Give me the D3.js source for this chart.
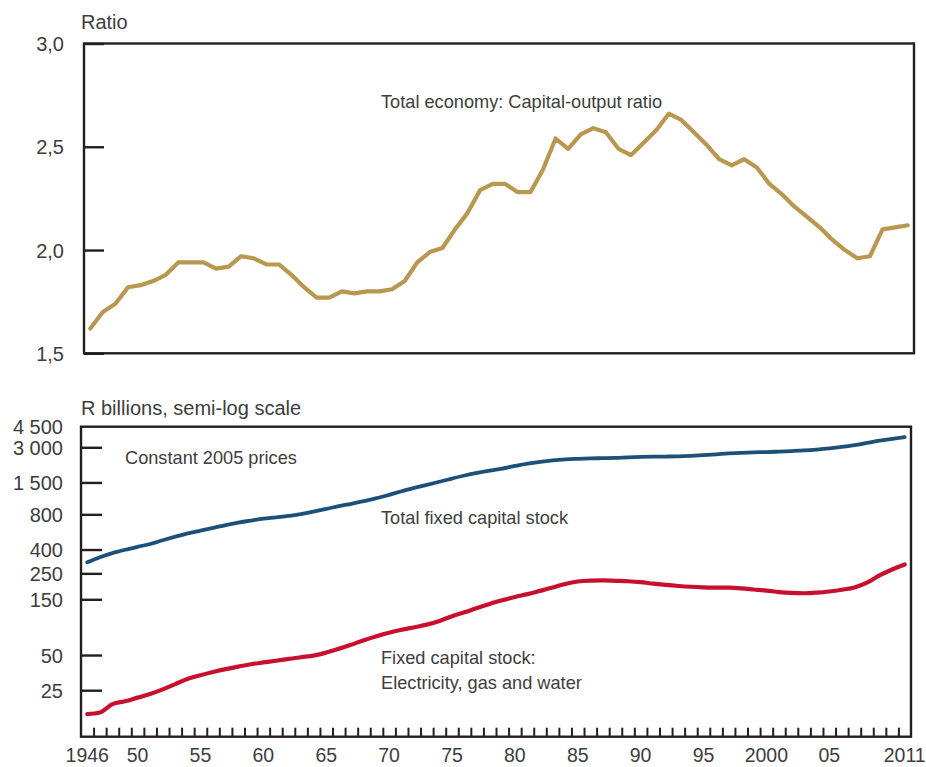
<!DOCTYPE html>
<html><head><meta charset="utf-8">
<script src="https://cdn.jsdelivr.net/npm/d3@7"></script>
<style>
html,body{margin:0;padding:0;background:#fff;}
svg{display:block;font-family:"Liberation Sans",Arial,Helvetica,sans-serif;}
</style></head><body>
<svg id="chart" width="926" height="767"></svg>
<script>
// Years covered by both panels
const years = d3.range(1946, 2012);

// Total economy: capital-output ratio
const capitalOutputRatio = [
  1.62, 1.70, 1.74, 1.82, 1.83, 1.85, 1.88, 1.94, 1.94, 1.94,
  1.91, 1.92, 1.97, 1.96, 1.93, 1.93, 1.88, 1.82, 1.77, 1.77,
  1.80, 1.79, 1.80, 1.80, 1.81, 1.85, 1.94, 1.99, 2.01, 2.10,
  2.18, 2.29, 2.32, 2.32, 2.28, 2.28, 2.39, 2.54, 2.49, 2.56,
  2.59, 2.57, 2.49, 2.46, 2.52, 2.58, 2.66, 2.63, 2.57, 2.51,
  2.44, 2.41, 2.44, 2.40, 2.32, 2.27, 2.21, 2.16, 2.11, 2.05,
  2.00, 1.96, 1.97, 2.10, 2.11, 2.12
];

// Total fixed capital stock, R billions at constant 2005 prices
const totalCapitalStock = [
  311, 344, 373, 398, 422, 446, 480, 515, 550, 580,
  612, 648, 680, 707, 735, 753, 775, 803, 845, 890,
  940, 985, 1040, 1100, 1175, 1260, 1350, 1430, 1520, 1620,
  1720, 1810, 1890, 1970, 2075, 2175, 2255, 2320, 2365, 2390,
  2410, 2420, 2433, 2460, 2480, 2495, 2500, 2510, 2535, 2570,
  2610, 2655, 2690, 2715, 2728, 2755, 2785, 2820, 2870, 2935,
  3020, 3130, 3270, 3420, 3540, 3660
];

// Fixed capital stock: electricity, gas and water, R billions
const electricityGasWaterStock = [
  15.6, 16.1, 19.0, 20.1, 21.6, 23.2, 25.4, 28.2, 31.3, 33.6,
  35.8, 37.9, 39.8, 41.7, 43.2, 44.7, 46.3, 47.9, 49.4, 52.5,
  56.5, 61.4, 67.0, 72.5, 77.7, 82.3, 86.5, 91, 98, 107.5,
  116, 126.5, 137, 147, 157, 166, 177, 189, 203, 213,
  217, 218, 216, 214, 210, 204, 199, 195, 192, 190,
  189, 188.5, 186, 182, 178, 173, 170, 169, 171, 175,
  181, 189, 208, 240, 270, 298
];

const ratioTicks = [1.5, 2.0, 2.5, 3.0];
const stockTicks = [25, 50, 150, 250, 400, 800, 1500, 3000, 4500];
const yearLabelYears = [1946, 1950, 1955, 1960, 1965, 1970, 1975, 1980, 1985, 1990, 1995, 2000, 2005, 2011];
const yearLabelText = ["1946", "50", "55", "60", "65", "70", "75", "80", "85", "90", "95", "2000", "05", "2011"];

const colors = { ratio: "#b9974f", total: "#1d5079", elec: "#c8102e", axis: "#231f20", text: "#3d3d3d" };

const locale = d3.formatLocale({ decimal: ",", thousands: " ", grouping: [3], currency: ["R", ""] });
const fmtRatio = locale.format(".1f");
const fmtStock = locale.format(",");

const svg = d3.select("#chart");

// ---------- Top panel: capital-output ratio ----------
const topBox = { left: 84, right: 914, top: 43.5, bottom: 353.3 };
const xTop = d3.scaleLinear().domain([1945.5, 2011.5]).range([topBox.left, topBox.right]);
const yTop = d3.scaleLinear().domain([1.5, 3.0]).range([topBox.bottom, topBox.top]);

const gTop = svg.append("g");

gTop.append("path")
  .datum(years.map((yr, i) => [yr, capitalOutputRatio[i]]))
  .attr("fill", "none")
  .attr("stroke", colors.ratio)
  .attr("stroke-width", 4.2)
  .attr("stroke-linejoin", "round")
  .attr("stroke-linecap", "round")
  .attr("d", d3.line().x(d => xTop(d[0])).y(d => yTop(d[1])));

gTop.append("rect")
  .attr("x", topBox.left).attr("y", topBox.top)
  .attr("width", topBox.right - topBox.left).attr("height", topBox.bottom - topBox.top)
  .attr("fill", "none").attr("stroke", colors.axis).attr("stroke-width", 2.4);

const yAxisTop = d3.axisLeft(yTop).tickValues(ratioTicks).tickFormat(fmtRatio).tickSize(-20).tickPadding(20);
const yAxisTopG = gTop.append("g").attr("transform", `translate(${topBox.left},0)`).call(yAxisTop);
yAxisTopG.select(".domain").remove();
yAxisTopG.selectAll(".tick line").attr("stroke", colors.axis).attr("stroke-width", 2.4);
yAxisTopG.selectAll(".tick text").attr("fill", colors.text).style("font-size", "20px").attr("dy", "0.36em");

gTop.append("text").attr("x", 81).attr("y", 29).attr("fill", colors.text)
  .style("font-size", "20px").text("Ratio");

gTop.append("text").attr("x", 381).attr("y", 108).attr("fill", colors.text)
  .style("font-size", "18.2px").text("Total economy: Capital-output ratio");

// ---------- Bottom panel: fixed capital stock, semi-log ----------
const botBox = { left: 81, right: 911, top: 426.7, bottom: 736.7 };
const xBot = d3.scaleLinear().domain([1945.5, 2011.5]).range([botBox.left, botBox.right]);
const yBot = d3.scaleLog().domain([10, 4500]).range([botBox.bottom, botBox.top]);

const gBot = svg.append("g");

const smoothLine = d3.line().curve(d3.curveMonotoneX).x(d => xBot(d[0])).y(d => yBot(d[1]));

gBot.append("path")
  .datum(years.map((yr, i) => [yr, totalCapitalStock[i]]))
  .attr("fill", "none").attr("stroke", colors.total).attr("stroke-width", 3.8)
  .attr("stroke-linecap", "round").attr("d", smoothLine);

gBot.append("path")
  .datum(years.map((yr, i) => [yr, electricityGasWaterStock[i]]))
  .attr("fill", "none").attr("stroke", colors.elec).attr("stroke-width", 4.2)
  .attr("stroke-linecap", "round").attr("d", smoothLine);

gBot.append("rect")
  .attr("x", botBox.left).attr("y", botBox.top)
  .attr("width", botBox.right - botBox.left).attr("height", botBox.bottom - botBox.top)
  .attr("fill", "none").attr("stroke", colors.axis).attr("stroke-width", 2.4);

const yAxisBot = d3.axisLeft(yBot).tickValues(stockTicks).tickFormat(fmtStock).tickSize(-21).tickPadding(18);
const yAxisBotG = gBot.append("g").attr("transform", `translate(${botBox.left},0)`).call(yAxisBot);
yAxisBotG.select(".domain").remove();
yAxisBotG.selectAll(".tick line").attr("stroke", colors.axis).attr("stroke-width", 2.4)
  .filter(d => d === 4500).remove();
yAxisBotG.selectAll(".tick text").attr("fill", colors.text).style("font-size", "20px").attr("dy", "0.36em");

// Year ticks sit on the boundaries between years; labels sit on the years
const xAxisTicks = d3.axisBottom(xBot).tickValues(years.slice(1).map(yr => yr - 0.5)).tickSize(-9).tickFormat("");
const xTickG = gBot.append("g").attr("transform", `translate(0,${botBox.bottom})`).call(xAxisTicks);
xTickG.select(".domain").remove();
xTickG.selectAll(".tick line").attr("stroke", colors.axis).attr("stroke-width", 2);

gBot.append("g").selectAll("text")
  .data(yearLabelYears)
  .join("text")
  .attr("x", d => xBot(d))
  .attr("y", 762)
  .attr("text-anchor", "middle")
  .attr("fill", colors.text)
  .style("font-size", "19.5px")
  .text((d, i) => yearLabelText[i]);

gBot.append("text").attr("x", 81).attr("y", 415).attr("fill", colors.text)
  .style("font-size", "20px").text("R billions, semi-log scale");

gBot.append("text").attr("x", 125).attr("y", 464).attr("fill", colors.text)
  .style("font-size", "18.2px").text("Constant 2005 prices");
gBot.append("text").attr("x", 381).attr("y", 524).attr("fill", colors.text)
  .style("font-size", "18.2px").text("Total fixed capital stock");
gBot.append("text").attr("x", 381).attr("y", 664).attr("fill", colors.text)
  .style("font-size", "18.2px").text("Fixed capital stock:");
gBot.append("text").attr("x", 381).attr("y", 689).attr("fill", colors.text)
  .style("font-size", "18.2px").text("Electricity, gas and water");
</script>
</body></html>
